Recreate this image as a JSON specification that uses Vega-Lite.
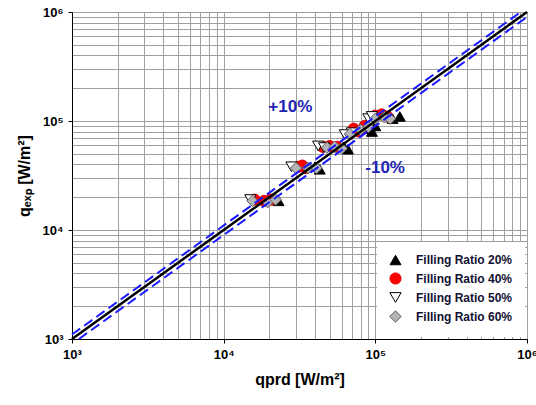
{
  "$schema": "https://vega.github.io/schema/vega-lite/v6.json",
  "width": 455,
  "height": 327,
  "autosize": "none",
  "padding": {"left": 72, "top": 12, "right": 9, "bottom": 66},
  "background": "white",
  "config": {
    "view": {"stroke": "black", "strokeWidth": 1},
    "font": "Liberation Sans",
    "axis": {
      "labelFont": "Liberation Sans",
      "labelFontWeight": "bold",
      "labelFontSize": 13,
      "labelColor": "black",
      "titleFont": "Liberation Sans",
      "titleFontWeight": "bold",
      "titleFontSize": 16,
      "titleColor": "black",
      "domainColor": "black",
      "tickColor": "black",
      "tickSize": 4,
      "gridColor": "#a0a0a0",
      "gridWidth": 1,
      "gridOpacity": 1
    },
    "legend": {
      "orient": "bottom-right",
      "offset": 2,
      "fillColor": "white",
      "padding": 12,
      "rowPadding": 3,
      "labelFont": "Liberation Sans",
      "labelFontWeight": "bold",
      "labelFontSize": 12,
      "labelColor": "#111133",
      "symbolStrokeWidth": 1,
      "labelOffset": 14
    }
  },
  "datasets": {
    "pts": [
      {"group": "Filling Ratio 20%", "qprd": 23000, "qexp": 18500},
      {"group": "Filling Ratio 20%", "qprd": 21000, "qexp": 19000},
      {"group": "Filling Ratio 20%", "qprd": 43000, "qexp": 36000},
      {"group": "Filling Ratio 20%", "qprd": 40000, "qexp": 38000},
      {"group": "Filling Ratio 20%", "qprd": 66000, "qexp": 55000},
      {"group": "Filling Ratio 20%", "qprd": 62000, "qexp": 58000},
      {"group": "Filling Ratio 20%", "qprd": 95000, "qexp": 80000},
      {"group": "Filling Ratio 20%", "qprd": 88000, "qexp": 85000},
      {"group": "Filling Ratio 20%", "qprd": 100000, "qexp": 90000},
      {"group": "Filling Ratio 20%", "qprd": 145000, "qexp": 110000},
      {"group": "Filling Ratio 20%", "qprd": 130000, "qexp": 105000},
      {"group": "Filling Ratio 40%", "qprd": 16000, "qexp": 19000},
      {"group": "Filling Ratio 40%", "qprd": 18500, "qexp": 18500},
      {"group": "Filling Ratio 40%", "qprd": 20500, "qexp": 19000},
      {"group": "Filling Ratio 40%", "qprd": 31000, "qexp": 38000},
      {"group": "Filling Ratio 40%", "qprd": 35000, "qexp": 37000},
      {"group": "Filling Ratio 40%", "qprd": 33000, "qexp": 39000},
      {"group": "Filling Ratio 40%", "qprd": 45000, "qexp": 58000},
      {"group": "Filling Ratio 40%", "qprd": 50000, "qexp": 59000},
      {"group": "Filling Ratio 40%", "qprd": 56000, "qexp": 58000},
      {"group": "Filling Ratio 40%", "qprd": 72000, "qexp": 85000},
      {"group": "Filling Ratio 40%", "qprd": 78000, "qexp": 80000},
      {"group": "Filling Ratio 40%", "qprd": 85000, "qexp": 90000},
      {"group": "Filling Ratio 40%", "qprd": 100000, "qexp": 112000},
      {"group": "Filling Ratio 40%", "qprd": 110000, "qexp": 115000},
      {"group": "Filling Ratio 40%", "qprd": 120000, "qexp": 110000},
      {"group": "Filling Ratio 50%", "qprd": 15000, "qexp": 19000},
      {"group": "Filling Ratio 50%", "qprd": 28000, "qexp": 38000},
      {"group": "Filling Ratio 50%", "qprd": 42000, "qexp": 59000},
      {"group": "Filling Ratio 50%", "qprd": 46000, "qexp": 57000},
      {"group": "Filling Ratio 50%", "qprd": 63000, "qexp": 75000},
      {"group": "Filling Ratio 50%", "qprd": 70000, "qexp": 78000},
      {"group": "Filling Ratio 50%", "qprd": 90000, "qexp": 105000},
      {"group": "Filling Ratio 50%", "qprd": 95000, "qexp": 110000},
      {"group": "Filling Ratio 60%", "qprd": 15500, "qexp": 18500},
      {"group": "Filling Ratio 60%", "qprd": 19500, "qexp": 18000},
      {"group": "Filling Ratio 60%", "qprd": 22000, "qexp": 19000},
      {"group": "Filling Ratio 60%", "qprd": 30000, "qexp": 37000},
      {"group": "Filling Ratio 60%", "qprd": 36000, "qexp": 37000},
      {"group": "Filling Ratio 60%", "qprd": 41000, "qexp": 37000},
      {"group": "Filling Ratio 60%", "qprd": 48000, "qexp": 57000},
      {"group": "Filling Ratio 60%", "qprd": 54000, "qexp": 58000},
      {"group": "Filling Ratio 60%", "qprd": 60000, "qexp": 56000},
      {"group": "Filling Ratio 60%", "qprd": 68000, "qexp": 76000},
      {"group": "Filling Ratio 60%", "qprd": 80000, "qexp": 83000},
      {"group": "Filling Ratio 60%", "qprd": 90000, "qexp": 88000},
      {"group": "Filling Ratio 60%", "qprd": 100000, "qexp": 105000},
      {"group": "Filling Ratio 60%", "qprd": 115000, "qexp": 108000},
      {"group": "Filling Ratio 60%", "qprd": 125000, "qexp": 105000}
    ],
    "lines": [
      {"series": "1:1", "qprd": 1000, "qexp": 1000},
      {"series": "1:1", "qprd": 1000000, "qexp": 1000000},
      {"series": "+10%", "qprd": 1000, "qexp": 1100},
      {"series": "+10%", "qprd": 909091, "qexp": 1000000},
      {"series": "-10%", "qprd": 1111, "qexp": 1000},
      {"series": "-10%", "qprd": 1000000, "qexp": 900000}
    ],
    "labels": [
      {"text": "+10%", "qprd": 27500, "qexp": 134000},
      {"text": "-10%", "qprd": 116000, "qexp": 37000}
    ]
  },
  "layer": [
    {
      "data": {"name": "pts"},
      "mark": {"type": "point", "filled": true, "strokeWidth": 1, "opacity": 1},
      "encoding": {
        "x": {
          "field": "qprd", "type": "quantitative",
          "scale": {"type": "log", "domain": [1000, 1000000], "nice": false},
          "axis": {
            "title": "qprd [W/m²]",
            "values": [1000,2000,3000,4000,5000,6000,7000,8000,9000,10000,20000,30000,40000,50000,60000,70000,80000,90000,100000,200000,300000,400000,500000,600000,700000,800000,900000,1000000],
            "labelExpr": "datum.value == 1000 ? '10³' : datum.value == 10000 ? '10⁴' : datum.value == 100000 ? '10⁵' : datum.value == 1000000 ? '10⁶' : ''",
            "tickOpacity": {"condition": {"test": "indexof([1000,10000,100000,1000000], datum.value) >= 0", "value": 1}, "value": 0},
            "labelPadding": 5,
            "titlePadding": 10,
            "labelFlush": false,
            "labelOverlap": false
          }
        },
        "y": {
          "field": "qexp", "type": "quantitative",
          "scale": {"type": "log", "domain": [1000, 1000000], "nice": false},
          "axis": {
            "title": "qₑₓₚ [W/m²]",
            "values": [1000,2000,3000,4000,5000,6000,7000,8000,9000,10000,20000,30000,40000,50000,60000,70000,80000,90000,100000,200000,300000,400000,500000,600000,700000,800000,900000,1000000],
            "labelExpr": "datum.value == 1000 ? '10³' : datum.value == 10000 ? '10⁴' : datum.value == 100000 ? '10⁵' : datum.value == 1000000 ? '10⁶' : ''",
            "tickOpacity": {"condition": {"test": "indexof([1000,10000,100000,1000000], datum.value) >= 0", "value": 1}, "value": 0},
            "labelPadding": 5,
            "titlePadding": 10,
            "labelFlush": false,
            "labelOverlap": false
          }
        },
        "shape": {
          "field": "group", "type": "nominal",
          "scale": {"domain": ["Filling Ratio 20%","Filling Ratio 40%","Filling Ratio 50%","Filling Ratio 60%"], "range": ["triangle-up","circle","triangle-down","diamond"]},
          "legend": {"title": null}
        },
        "fill": {
          "field": "group", "type": "nominal",
          "scale": {"domain": ["Filling Ratio 20%","Filling Ratio 40%","Filling Ratio 50%","Filling Ratio 60%"], "range": ["black","#ff0000","white","#b4b4b4"]},
          "legend": {"title": null}
        },
        "stroke": {
          "field": "group", "type": "nominal",
          "scale": {"domain": ["Filling Ratio 20%","Filling Ratio 40%","Filling Ratio 50%","Filling Ratio 60%"], "range": ["black","#e00000","black","#606060"]},
          "legend": {"title": null}
        },
        "size": {
          "field": "group", "type": "nominal",
          "scale": {"domain": ["Filling Ratio 20%","Filling Ratio 40%","Filling Ratio 50%","Filling Ratio 60%"], "range": [120, 130, 80, 70]},
          "legend": {"title": null}
        }
      }
    },
    {
      "data": {"name": "lines"},
      "transform": [{"filter": "datum.series == '1:1'"}],
      "mark": {"type": "line", "color": "black", "strokeWidth": 2.5},
      "encoding": {
        "x": {"field": "qprd", "type": "quantitative"},
        "y": {"field": "qexp", "type": "quantitative"}
      }
    },
    {
      "data": {"name": "lines"},
      "transform": [{"filter": "datum.series != '1:1'"}],
      "mark": {"type": "line", "color": "#1a1aff", "strokeWidth": 2, "strokeDash": [10, 5]},
      "encoding": {
        "x": {"field": "qprd", "type": "quantitative"},
        "y": {"field": "qexp", "type": "quantitative"},
        "detail": {"field": "series", "type": "nominal"}
      }
    },
    {
      "data": {"name": "labels"},
      "mark": {"type": "text", "font": "Liberation Sans", "fontWeight": "bold", "fontSize": 17, "color": "#2424b4"},
      "encoding": {
        "x": {"field": "qprd", "type": "quantitative"},
        "y": {"field": "qexp", "type": "quantitative"},
        "text": {"field": "text", "type": "nominal"}
      }
    }
  ]
}
